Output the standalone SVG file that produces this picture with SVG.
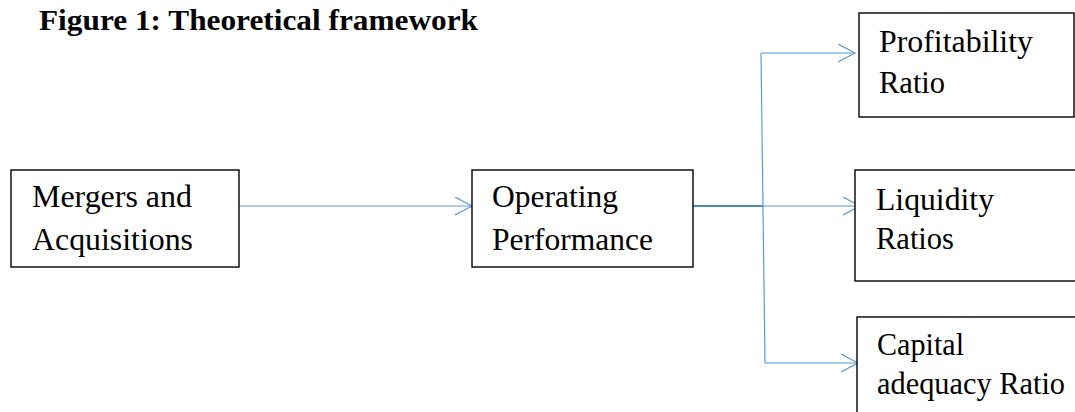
<svg xmlns="http://www.w3.org/2000/svg" width="1075" height="412" viewBox="0 0 1075 412">
  <style>
    .box { fill: #ffffff; stroke: #000000; stroke-width: 1.4; }
    .label { font-family: "Liberation Serif", "Times New Roman", serif; font-size: 30.5px; fill: #000000; }
    .title { font-family: "Liberation Serif", "Times New Roman", serif; font-size: 29px; font-weight: bold; fill: #000000; }
    .link { fill: none; stroke: #5B9BD5; stroke-width: 1.2; }
    .trunk { fill: none; stroke: #4A8BCB; stroke-width: 1.8; }
  </style>
  <defs>
    <marker id="open-arrow" markerUnits="userSpaceOnUse" markerWidth="20" markerHeight="22" refX="17" refY="9" orient="auto">
      <path d="M0,0 L17,9 L0,18" fill="none" stroke="#5B9BD5" stroke-width="1.2"/>
    </marker>
  </defs>

  <rect width="1075" height="412" fill="#ffffff"/>

  <text class="title" x="39" y="30" textLength="439" lengthAdjust="spacingAndGlyphs">Figure 1: Theoretical framework</text>

  <g id="connectors">
    <path class="link" d="M239,206 H472" marker-end="url(#open-arrow)"/>
    <path class="trunk" d="M693,206 H763"/>
    <path class="link" d="M763,206 H860" marker-end="url(#open-arrow)"/>
    <path class="link" d="M761,53 L765,363"/>
    <path class="link" d="M761,53 H855" marker-end="url(#open-arrow)"/>
    <path class="link" d="M765,363 H858" marker-end="url(#open-arrow)"/>
  </g>

  <g id="mergers">
    <rect class="box" x="11" y="170" width="228" height="97"/>
    <text class="label" x="32" y="207" textLength="160" lengthAdjust="spacingAndGlyphs">Mergers and</text>
    <text class="label" x="32" y="250" textLength="161" lengthAdjust="spacingAndGlyphs">Acquisitions</text>
  </g>

  <g id="operating">
    <rect class="box" x="472" y="170" width="221" height="97"/>
    <text class="label" x="492" y="207" textLength="126" lengthAdjust="spacingAndGlyphs">Operating</text>
    <text class="label" x="492" y="250" textLength="161" lengthAdjust="spacingAndGlyphs">Performance</text>
  </g>

  <g id="profitability">
    <rect class="box" x="859" y="13" width="215" height="104"/>
    <text class="label" x="879" y="52" textLength="154" lengthAdjust="spacingAndGlyphs">Profitability</text>
    <text class="label" x="879" y="93">Ratio</text>
  </g>

  <g id="liquidity">
    <rect class="box" x="855" y="170" width="225" height="111"/>
    <text class="label" x="876" y="210" textLength="118" lengthAdjust="spacingAndGlyphs">Liquidity</text>
    <text class="label" x="876" y="249">Ratios</text>
  </g>

  <g id="capital">
    <rect class="box" x="857" y="317" width="225" height="110"/>
    <text class="label" x="877" y="355" textLength="87" lengthAdjust="spacingAndGlyphs">Capital</text>
    <text class="label" x="877" y="394" textLength="188" lengthAdjust="spacingAndGlyphs">adequacy Ratio</text>
  </g>
</svg>
